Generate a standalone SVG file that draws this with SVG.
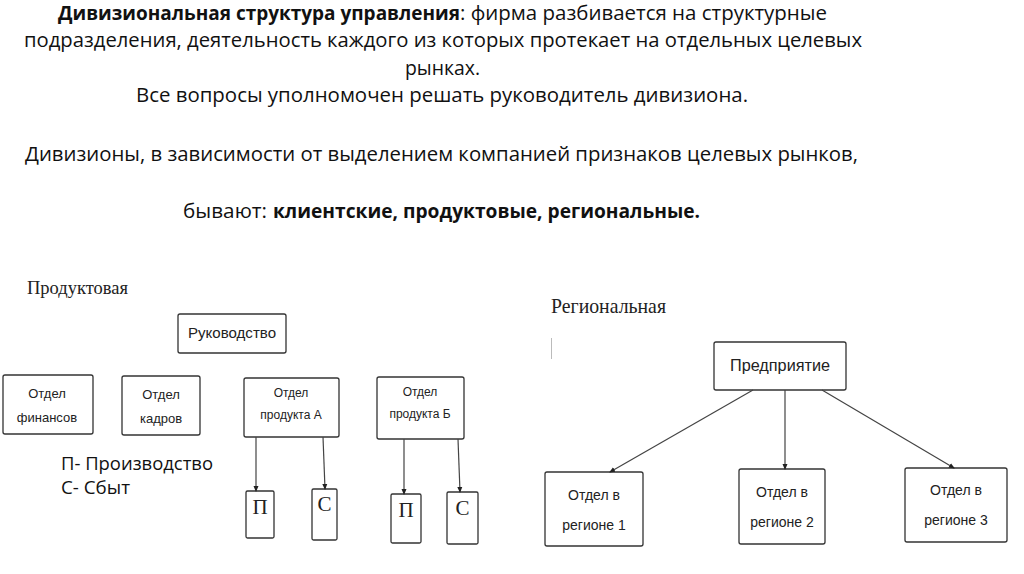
<svg xmlns="http://www.w3.org/2000/svg" width="1024" height="574" viewBox="0 0 1024 574">
<defs>
<style>
.t{font-family:"Open Sans","Noto Sans","Liberation Sans",sans-serif;font-size:20px;fill:#111}
.b{font-weight:bold}
.box{fill:#fff;stroke:#333;stroke-width:1.3}
.bt{font-family:"Liberation Sans","DejaVu Sans",sans-serif;font-size:13px;fill:#222;text-anchor:middle}
.ser{font-family:"Liberation Serif","DejaVu Serif",serif;fill:#222}
.con{stroke:#444;stroke-width:1.2;fill:none;marker-end:url(#ah)}
</style>
<marker id="ah" markerWidth="6" markerHeight="6" refX="5" refY="3" orient="auto" markerUnits="userSpaceOnUse">
<path d="M0,0.5 L6,3 L0,5.5 Z" fill="#222"/>
</marker>
</defs>
<rect width="1024" height="574" fill="#fff"/>

<g id="header">
<text class="t b" x="58" y="20" textLength="402" lengthAdjust="spacingAndGlyphs">Дивизиональная структура управления</text>
<text class="t" x="460" y="20" textLength="367" lengthAdjust="spacingAndGlyphs">: фирма разбивается на структурные</text>
<text class="t" x="24" y="47" textLength="838" lengthAdjust="spacingAndGlyphs">подразделения, деятельность каждого из которых протекает на отдельных целевых</text>
<text class="t" x="405" y="75" textLength="75" lengthAdjust="spacingAndGlyphs">рынках.</text>
<text class="t" x="136" y="102" textLength="612" lengthAdjust="spacingAndGlyphs">Все  вопросы уполномочен решать руководитель дивизиона.</text>
<text class="t" x="25" y="161" textLength="833" lengthAdjust="spacingAndGlyphs">Дивизионы, в зависимости от выделением компанией признаков целевых рынков,</text>
<text class="t" x="183" y="218" textLength="84" lengthAdjust="spacingAndGlyphs">бывают:</text>
<text class="t b" x="273" y="218" textLength="427" lengthAdjust="spacingAndGlyphs">клиентские, продуктовые, региональные.</text>
</g>

<g id="label-product">
<text class="ser" x="27" y="294" style="font-size:19px" textLength="101" lengthAdjust="spacingAndGlyphs">Продуктовая</text>
</g>
<g id="label-region">
<text class="ser" x="551" y="313" style="font-size:21px" textLength="115" lengthAdjust="spacingAndGlyphs">Региональная</text>
<line x1="551.5" y1="338" x2="551.5" y2="359" stroke="#bbb" stroke-width="1"/>
</g>

<g id="legend">
<text class="t" x="61" y="470" style="font-size:18px" textLength="152" lengthAdjust="spacingAndGlyphs">П- Производство</text>
<text class="t" x="61" y="494" style="font-size:18px" textLength="69" lengthAdjust="spacingAndGlyphs">С- Сбыт</text>
</g>

<g id="n-rukovodstvo">
<rect class="box" x="178" y="314" width="108" height="39" rx="2"/>
<text class="bt" x="232" y="338" style="font-size:15px" textLength="88" lengthAdjust="spacingAndGlyphs">Руководство</text>
</g>
<g id="n-finance">
<rect class="box" x="3" y="375" width="90" height="59" rx="2"/>
<text class="bt" x="47" y="398">Отдел</text>
<text class="bt" x="47" y="422">финансов</text>
</g>
<g id="n-kadry">
<rect class="box" x="122" y="376" width="78" height="59" rx="2"/>
<text class="bt" x="161" y="399">Отдел</text>
<text class="bt" x="161" y="423">кадров</text>
</g>
<g id="n-prodA">
<rect class="box" x="244" y="378" width="95" height="59" rx="2"/>
<text class="bt" x="291" y="397" style="font-size:12px">Отдел</text>
<text class="bt" x="291" y="419" style="font-size:12px">продукта А</text>
</g>
<g id="n-prodB">
<rect class="box" x="377" y="377" width="87" height="62" rx="2"/>
<text class="bt" x="420" y="396" style="font-size:12px">Отдел</text>
<text class="bt" x="420" y="418" style="font-size:12px">продукта Б</text>
</g>
<g id="n-PA">
<rect class="box" x="246" y="491" width="28" height="47" rx="1.5"/>
<text class="ser" x="260" y="514" style="font-size:21px" text-anchor="middle">П</text>
</g>
<g id="n-CA">
<rect class="box" x="312" y="489" width="25" height="51" rx="1.5"/>
<text class="ser" x="324.5" y="511" style="font-size:21px" text-anchor="middle">С</text>
</g>
<g id="n-PB">
<rect class="box" x="391" y="494" width="30" height="49" rx="1.5"/>
<text class="ser" x="406" y="517" style="font-size:21px" text-anchor="middle">П</text>
</g>
<g id="n-CB">
<rect class="box" x="447" y="492" width="31" height="52" rx="1.5"/>
<text class="ser" x="462.5" y="515" style="font-size:21px" text-anchor="middle">С</text>
</g>

<g id="n-predpr">
<rect class="box" x="714" y="342" width="132" height="48" rx="2"/>
<text class="bt" x="780" y="371" style="font-size:16px;font-weight:500" textLength="100" lengthAdjust="spacingAndGlyphs">Предприятие</text>
</g>
<g id="n-r1">
<rect class="box" x="545" y="472" width="98" height="74" rx="2"/>
<text class="bt" x="594" y="500" style="font-size:14px">Отдел в</text>
<text class="bt" x="594" y="530" style="font-size:14px">регионе 1</text>
</g>
<g id="n-r2">
<rect class="box" x="739" y="469" width="86" height="75" rx="2"/>
<text class="bt" x="782" y="497" style="font-size:14px">Отдел в</text>
<text class="bt" x="782" y="527" style="font-size:14px">регионе 2</text>
</g>
<g id="n-r3">
<rect class="box" x="905" y="468" width="102" height="74" rx="2"/>
<text class="bt" x="956" y="495" style="font-size:14px">Отдел в</text>
<text class="bt" x="956" y="525" style="font-size:14px">регионе 3</text>
</g>

<g id="connectors">
<line class="con" x1="256" y1="437" x2="256" y2="491"/>
<line class="con" x1="323" y1="437" x2="325" y2="489"/>
<line class="con" x1="404" y1="439" x2="404" y2="494"/>
<line class="con" x1="458" y1="439" x2="460" y2="492"/>
<line class="con" x1="753" y1="390" x2="610" y2="472"/>
<line class="con" x1="785" y1="390" x2="785" y2="469"/>
<line class="con" x1="822" y1="390" x2="954" y2="468"/>
</g>
</svg>
